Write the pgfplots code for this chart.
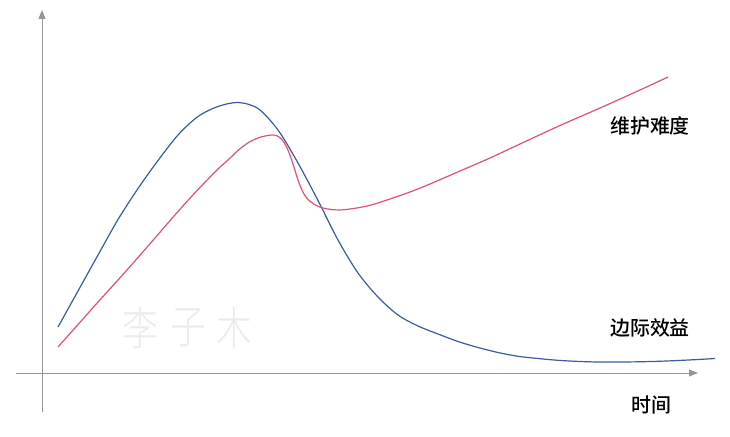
\documentclass[border=0pt]{standalone}
\usepackage{pgfplots}
\pgfplotsset{compat=1.18}
\usepackage{fontspec}
\setmainfont{Liberation Sans}
\newfontfamily\cjk{Noto Sans CJK SC}
\newfontfamily\cjkb{Noto Sans CJK SC Medium}
\newfontfamily\cjkl{Noto Sans CJK SC Light}
\usetikzlibrary{arrows.meta}
\definecolor{cblue}{RGB}{58,92,160}
\definecolor{cred}{RGB}{226,82,112}
\definecolor{axgray}{RGB}{150,150,150}
\definecolor{wm}{RGB}{235,235,235}
\begin{document}
\begin{tikzpicture}[x=1bp,y=1bp]
\begin{axis}[
  scale only axis, width=730bp, height=436bp,
  xmin=0, xmax=730, ymin=0, ymax=436, y dir=reverse,
  hide axis, clip=false]
\path (axis cs:0,0) rectangle (axis cs:730,436);
% watermark
\node[font=\cjkl\fontsize{46}{46}\selectfont, text=wm, xscale=0.78] at (axis cs:140,328) {李};
\node[font=\cjkl\fontsize{46}{46}\selectfont, text=wm, xscale=0.78] at (axis cs:188,328) {子};
\node[font=\cjkl\fontsize{46}{46}\selectfont, text=wm, xscale=0.78] at (axis cs:234,328) {木};
% axes
\draw[axgray, line width=0.9bp, -{Triangle[length=9bp,width=7bp]}] (axis cs:42,412) -- (axis cs:42,10);
\draw[axgray, line width=0.9bp, -{Triangle[length=9bp,width=7bp]}] (axis cs:16,373) -- (axis cs:698,373);
% blue: marginal benefit
\addplot[cblue, line width=1.2bp, smooth] coordinates {
(58,327) (78,291) (98,255) (118,219.5) (138,188.5) (158,160.5) (178,135)
(198,116.5) (218,106.5) (238,102.5) (258,108.5) (278,130) (298,163)
(318,200.5) (338,240) (358,273) (378,297) (398,315) (418,326) (438,334)
(458,341.5) (478,347.5) (498,352.5) (518,356.3) (538,358.5) (558,360.3)
(578,361.4) (598,362) (618,362) (638,361.8) (658,361.3) (678,360.5)
(698,359.5) (715,358.5)};
% red: maintenance difficulty
\addplot[cred, line width=1.2bp, smooth] coordinates {
(58,347) (78,324.5) (98,302) (118,280) (138,257.5) (158,234.5) (178,211.5)
(198,189.5) (218,169) (228,160) (238,150.5) (248,142.8) (258,138)
(266,135.8) (272,135) (277,135.8) (282,139.5) (286,146) (289,152.5)
(292,161) (295,170.5) (298,180) (301,188) (304,194) (308,199.5)
(313,203.5) (318,206.3) (323,208) (330,209.3) (340,210) (355,208.3)
(370,205.3) (387,200) (410,192) (430,184) (460,171) (490,158) (520,144)
(560,125.5) (600,108) (640,90) (668,77)};
% labels
\node[font=\cjkb\fontsize{20}{20}\selectfont, anchor=center] at (axis cs:650,126) {维护难度};
\node[font=\cjkb\fontsize{20}{20}\selectfont, anchor=center] at (axis cs:650,328) {边际效益};
\node[font=\cjkb\fontsize{20}{20}\selectfont, anchor=center] at (axis cs:651,405) {时间};
\end{axis}
\end{tikzpicture}
\end{document}
